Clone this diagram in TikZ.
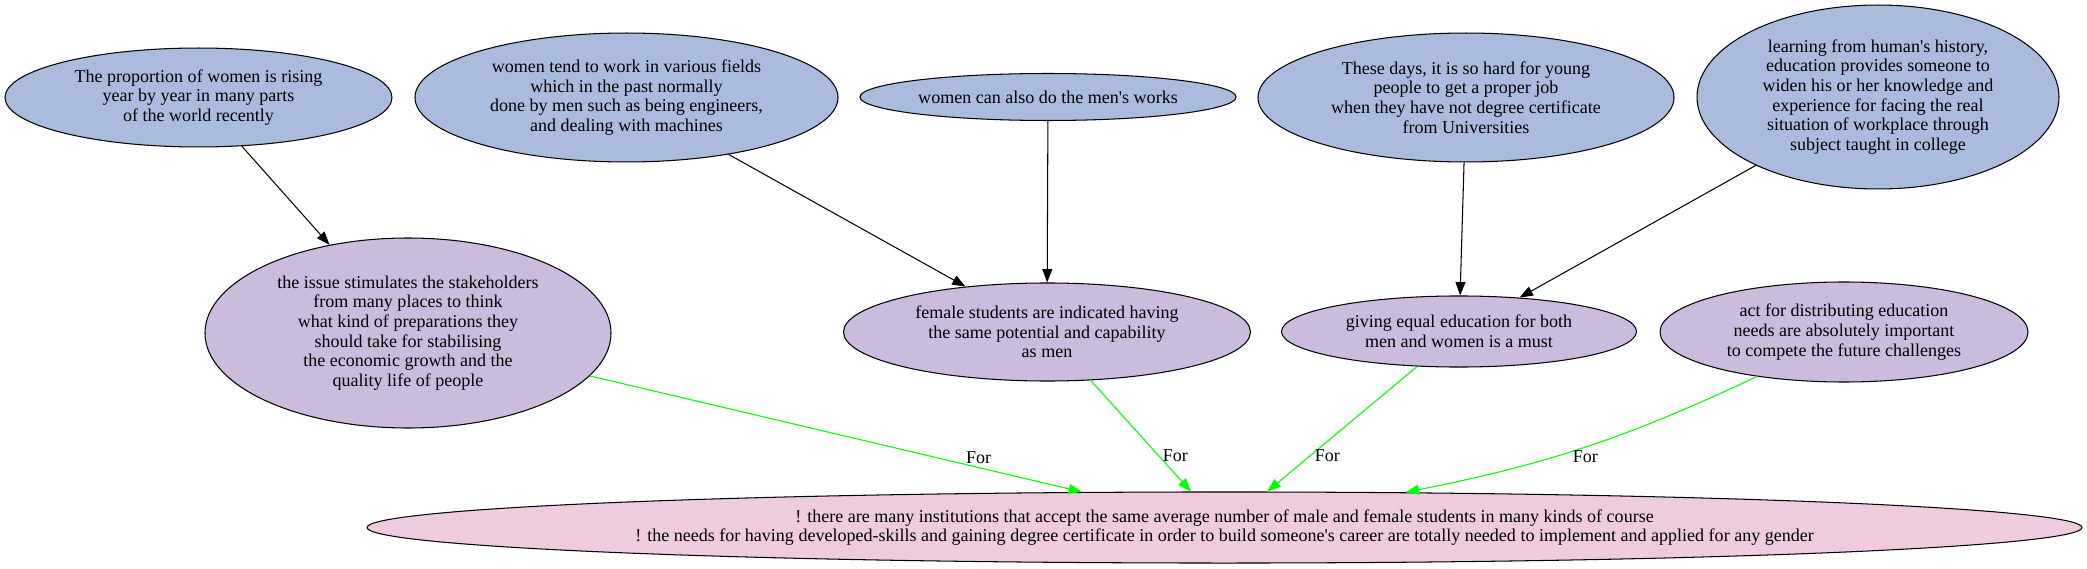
\documentclass[tikz,border=0pt]{standalone}
\usepackage{fontspec}
\setmainfont{Liberation Serif}
\usetikzlibrary{shapes.geometric, arrows.meta}
\definecolor{premise}{HTML}{AABBDD}
\definecolor{claim}{HTML}{CBBBDD}
\definecolor{thesis}{HTML}{EECCDD}
\definecolor{support}{HTML}{00FF00}
\tikzstyle{arg}=[ellipse,draw=black,line width=0.9pt,align=center,inner sep=1pt,font=\fontsize{15.5}{16.9}\selectfont]
\tikzstyle{prem}=[arg,fill=premise]
\tikzstyle{clm}=[arg,fill=claim]
\tikzstyle{thes}=[arg,fill=thesis]
\tikzstyle{lnk}=[line width=0.9pt,-{Triangle[length=11.5pt,width=8.5pt]}]
\tikzstyle{pro}=[lnk,draw=support]
\tikzstyle{lbl}=[font=\fontsize{15.5}{16.9}\selectfont,inner sep=3pt,text=black]

\begin{document}
\begin{tikzpicture}[x=0.86pt,y=0.86pt]
    \useasboundingbox (0,0) rectangle (2087,-569);
    \node[prem,minimum width=332.8pt,minimum height=85.1pt] (a1) at (198.5,-97.5) {The proportion of women is rising\\year by year in many parts\\of the world recently};
    \node[prem,minimum width=363.8pt,minimum height=110.9pt] (a2) at (626.5,-97.5) {women tend to work in various fields\\which in the past normally\\done by men such as being engineers,\\and dealing with machines};
    \node[prem,minimum width=323.4pt,minimum height=40.4pt] (a3) at (1048,-97) {women can also do the men\textquotesingle s works};
    \node[prem,minimum width=357.8pt,minimum height=110.9pt] (a4) at (1466,-97.5) {These days, it is so hard for young\\people to get a proper job\\when they have not degree certificate\\from Universities};
    \node[prem,minimum width=311.3pt,minimum height=158.2pt] (a5) at (1878,-97) {learning from human\textquotesingle s history,\\education provides someone to\\widen his or her knowledge and\\experience for facing the real\\situation of workplace through\\subject taught in college};
    \node[clm,minimum width=349.2pt,minimum height=163.4pt] (b1) at (408,-333) {the issue stimulates the stakeholders\\from many places to think\\what kind of preparations they\\should take for stabilising\\the economic growth and the\\quality life of people};
    \node[clm,minimum width=350pt,minimum height=84.3pt] (b2) at (1047,-332) {female students are indicated having\\the same potential and capability\\as men};
    \node[clm,minimum width=305.3pt,minimum height=61.1pt] (b3) at (1459,-331.5) {giving equal education for both\\men and women is a must};
    \node[clm,minimum width=316.5pt,minimum height=86pt] (b4) at (1844,-332) {act for distributing education\\needs are absolutely important\\to compete the future challenges};
    \node[thes,minimum width=1474.9pt,minimum height=61.1pt] (c) at (1224.5,-527.5) {! there are many institutions that accept the same average number of male and female students in many kinds of course\\! the needs for having developed-skills and gaining degree certificate in order to build someone\textquotesingle s career are totally needed to implement and applied for any gender};
    \foreach \s/\t in {a1/b1, a2/b2, a3/b2, a4/b3, a5/b3}
        \draw[lnk] (\s) -- (\t);
    \foreach \s/\a/\p/\w in {b1/166.75/0.79/above, b2/133.4/0.68/right, b3/40.5/0.71/right}
        \draw[pro] (\s) -- (c.\a) node[lbl,pos=\p,\w] {For};
    \draw[pro] (b4) to[bend left=7] node[lbl,pos=0.5,below] {For} (c.11);
\end{tikzpicture}
\end{document}
